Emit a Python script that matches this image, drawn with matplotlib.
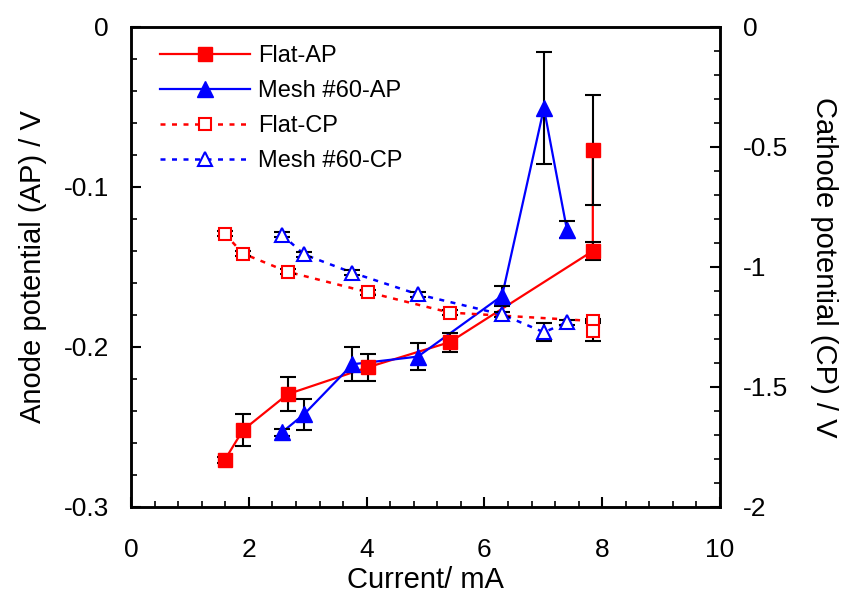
import numpy as np
import matplotlib
matplotlib.use("Agg")
import matplotlib.pyplot as plt
from matplotlib.lines import Line2D
from matplotlib.ticker import MultipleLocator

plt.rcParams['font.family'] = ['Liberation Sans', 'DejaVu Sans']

# data
flat_x = [1.59, 1.90, 2.66, 4.02, 5.41, 7.84, 7.84]
flat_ap = [-0.2707, -0.252, -0.2295, -0.2127, -0.197, -0.140, -0.0767]
flat_ap_err = [0.002, 0.010, 0.0107, 0.0084, 0.006, 0.0056, 0.0345]
flat_cp = [-0.861, -0.944, -1.020, -1.105, -1.190, -1.225, -1.267]
flat_cp_err = [0.01, 0.01, 0.01, 0.01, 0.01, 0.01, 0.04]

mesh_x = [2.56, 2.94, 3.76, 4.87, 6.30, 7.01, 7.40]
mesh_ap = [-0.2534, -0.242, -0.2108, -0.206, -0.168, -0.0507, -0.1266]
mesh_ap_err = [0.002, 0.0097, 0.0106, 0.0085, 0.0063, 0.035, 0.0056]
mesh_cp = [-0.865, -0.948, -1.024, -1.114, -1.198, -1.272, -1.231]
mesh_cp_err = [0.01, 0.01, 0.01, 0.01, 0.01, 0.038, 0.01]

red = '#FF0000'
blue = '#0000FF'
dot = (0, (2.0, 2.6))

fig = plt.figure(figsize=(8.48, 5.97), dpi=100)
ax = fig.add_axes([0.1545, 0.1508, 0.6946, 0.804])
ax2 = ax.twinx()

# anode potential (left axis)
ax.plot(flat_x, flat_ap, color=red, lw=1.6, zorder=2)
ax.plot(mesh_x, mesh_ap, color=blue, lw=1.6, zorder=2)
ax.errorbar(flat_x, flat_ap, yerr=flat_ap_err, fmt='none', ecolor='black',
            elinewidth=1.5, capsize=6, capthick=1.5, zorder=3)
ax.errorbar(mesh_x, mesh_ap, yerr=mesh_ap_err, fmt='none', ecolor='black',
            elinewidth=1.5, capsize=6, capthick=1.5, zorder=3)
ax.plot(flat_x, flat_ap, ls='none', marker='s', ms=10, color=red, zorder=4)
ax.plot(mesh_x, mesh_ap, ls='none', marker='^', ms=11.5, color=blue, zorder=4)

# cathode potential (right axis)
ax2.plot(flat_x, flat_cp, color=red, lw=1.8, ls=dot, zorder=2)
ax2.plot(mesh_x, mesh_cp, color=blue, lw=1.8, ls=dot, zorder=2)
ax2.errorbar(flat_x, flat_cp, yerr=flat_cp_err, fmt='none', ecolor='black',
             elinewidth=1.5, capsize=6, capthick=1.5, zorder=3)
ax2.errorbar(mesh_x, mesh_cp, yerr=mesh_cp_err, fmt='none', ecolor='black',
             elinewidth=1.5, capsize=6, capthick=1.5, zorder=3)
ax2.plot(flat_x, flat_cp, ls='none', marker='s', ms=9, mfc='white', mec=red,
         mew=1.5, zorder=4)
ax2.plot(mesh_x, mesh_cp, ls='none', marker='^', ms=10.5, mfc='white', mec=blue,
         mew=1.5, zorder=4)

ax.set_xlim(0, 10)
ax.set_ylim(-0.3, 0)
ax2.set_ylim(-2, 0)

ax.xaxis.set_major_locator(MultipleLocator(2))
ax.xaxis.set_minor_locator(MultipleLocator(0.4))
ax.yaxis.set_major_locator(MultipleLocator(0.1))
ax.yaxis.set_minor_locator(MultipleLocator(0.02))
ax2.yaxis.set_major_locator(MultipleLocator(0.5))
ax2.yaxis.set_minor_locator(MultipleLocator(0.1))

fmt = lambda v, p: '%g' % v if abs(v) > 1e-9 else '0'
ax.xaxis.set_major_formatter(plt.FuncFormatter(fmt))
ax.yaxis.set_major_formatter(plt.FuncFormatter(fmt))
ax2.yaxis.set_major_formatter(plt.FuncFormatter(fmt))

for a in (ax, ax2):
    a.tick_params(which='major', direction='in', length=7, width=1.5, labelsize=19)
    a.tick_params(which='minor', direction='in', length=4.5, width=1.2)
    for s in a.spines.values():
        s.set_linewidth(1.8)
ax.tick_params(axis='x', pad=22)
ax.tick_params(axis='y', pad=16)
ax2.tick_params(axis='y', pad=16.5)

ax.set_xlabel('Current/ mA', fontsize=21, labelpad=3)
ax.set_ylabel('Anode potential (AP) / V', fontsize=21, labelpad=12)
ax2.set_ylabel('Cathode potential (CP) / V', fontsize=21, rotation=270, labelpad=36)

handles = [
    Line2D([], [], color=red, lw=1.6, marker='s', ms=10),
    Line2D([], [], color=blue, lw=1.6, marker='^', ms=11.5),
    Line2D([], [], color=red, lw=1.8, ls=dot, marker='s', ms=9, mfc='white', mew=1.5),
    Line2D([], [], color=blue, lw=1.8, ls=dot, marker='^', ms=10.5, mfc='white', mew=1.5),
]
labels = ['Flat-AP', 'Mesh #60-AP', 'Flat-CP', 'Mesh #60-CP']
ax2.legend(handles, labels, loc='upper left', bbox_to_anchor=(0.049, 0.962),
           frameon=False, fontsize=17, handlelength=3.8, labelspacing=0.55,
           handletextpad=0.35, borderpad=0, borderaxespad=0)

fig.savefig('out.png', dpi=100)
